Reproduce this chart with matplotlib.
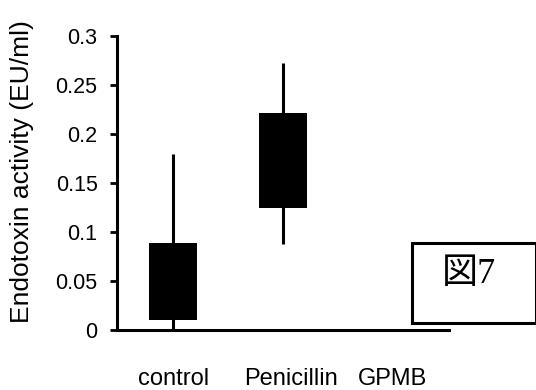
import numpy as np
import matplotlib.pyplot as plt
from matplotlib.patches import Rectangle
from matplotlib.transforms import ScaledTranslation

# 群ごとの値 (箱 = 下端/上端, ひげ = 最小/最大)
groups = ["control", "Penicillin", "GPMB"]
box_low = [0.010, 0.125, 0.0]
box_high = [0.089, 0.221, 0.0]
whisker_low = [0.0, 0.088, 0.0]
whisker_high = [0.180, 0.272, 0.0]
yticks = [0, 0.05, 0.1, 0.15, 0.2, 0.25, 0.3]
ytick_labels = ["0", "0.05", "0.1", "0.15", "0.2", "0.25", "0.3"]

plt.rcParams["font.family"] = ["Liberation Sans", "DejaVu Sans"]

fig = plt.figure(figsize=(5.36, 3.9), dpi=100)
ax = fig.add_axes([0.2183, 0.1538, 0.6194, 0.7538])

x = np.arange(len(groups))
box_low = np.array(box_low)
box_high = np.array(box_high)

# ひげ
ax.vlines(x, whisker_low, whisker_high, color="black", lw=2.2, zorder=2)
# 箱
ax.bar(x, box_high - box_low, bottom=box_low, width=0.43, color="black", zorder=3)

ax.set_xlim(-0.51, 2.51)
ax.set_ylim(0, 0.3)
ax.set_yticks(yticks)
ax.set_yticklabels(ytick_labels)
ax.set_xticks(x)
ax.set_xticklabels(groups, fontsize=17)
ax.tick_params(axis="x", length=0, pad=27)
ax.tick_params(axis="y", length=5, width=2, pad=9, labelsize=15.5)
ax.set_ylabel("Endotoxin activity (EU/ml)", fontsize=19)
ax.yaxis.set_label_coords(-0.25, 0.54)

# Penicillin のラベルは少し右寄り
lbl = ax.get_xticklabels()[1]
lbl.set_transform(lbl.get_transform() + ScaledTranslation(0.08, 0, fig.dpi_scale_trans))

for side in ["top", "right"]:
    ax.spines[side].set_visible(False)
for side in ["left", "bottom"]:
    ax.spines[side].set_linewidth(2.2)

# 図7 の枠
fig.patches.append(Rectangle((412 / 536, 1 - 323 / 390), 124 / 536, 80 / 390,
                             transform=fig.transFigure, fill=False,
                             edgecolor="black", lw=2.2, zorder=5))
fig.text(469 / 536, 1 - 275 / 390, "図7", fontsize=26, ha="center", va="center",
         family=["Liberation Serif", "Noto Sans CJK JP"])

fig.savefig("out.png", dpi=100)
